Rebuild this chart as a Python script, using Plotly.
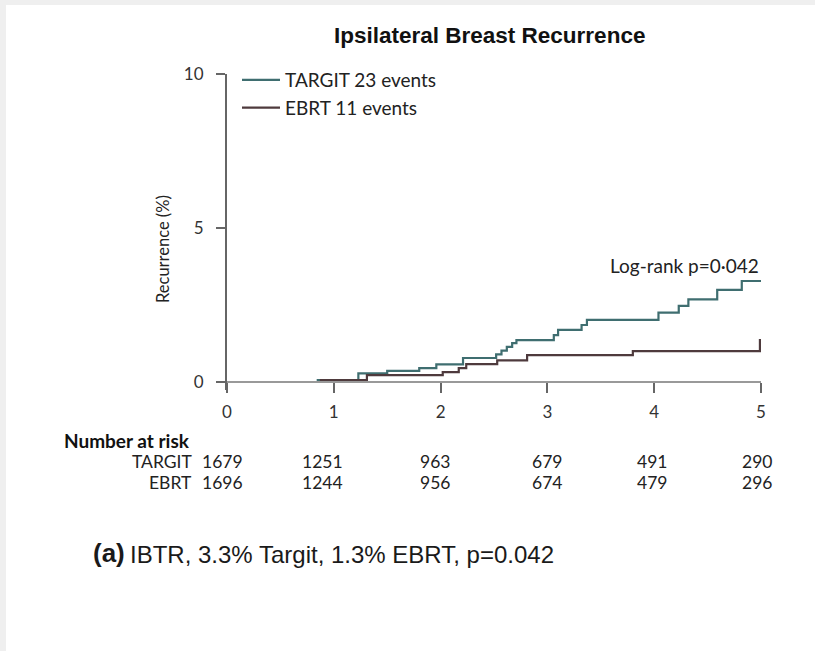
import plotly.graph_objects as go

# ---- data ----
targit_t = [0, 0.85, 1.23, 1.50, 1.80, 1.96, 2.21, 2.52, 2.57, 2.62, 2.67, 2.71,
            3.06, 3.10, 3.32, 3.37, 4.04, 4.23, 4.32, 4.59, 4.82, 5.0]
targit_v = [0, 0.06, 0.28, 0.36, 0.45, 0.57, 0.78, 0.90, 1.02, 1.14, 1.26, 1.36,
            1.52, 1.69, 1.85, 2.02, 2.25, 2.47, 2.68, 2.99, 3.28, 3.28]
ebrt_t = [0, 0.88, 1.31, 2.02, 2.17, 2.24, 2.53, 2.81, 3.80, 4.99, 5.0]
ebrt_v = [0, 0.06, 0.22, 0.32, 0.45, 0.58, 0.70, 0.87, 1.00, 1.36, 1.36]

risk_times = [0, 1, 2, 3, 4, 5]
risk_targit = [1679, 1251, 963, 679, 491, 290]
risk_ebrt = [1696, 1244, 956, 674, 479, 296]
risk_shift = [-5, -11, -6, 0, -2, -4]

x_ticks = [0, 1, 2, 3, 4, 5]
y_ticks = [0, 5, 10]

TARGIT_COL = "#3f6e70"
EBRT_COL = "#4e3a3d"
FONT = "Lato"

fig = go.Figure()
fig.add_trace(go.Scatter(x=targit_t, y=targit_v, mode="lines", line_shape="hv",
                         line=dict(color=TARGIT_COL, width=2.2), name="TARGIT 23 events"))
fig.add_trace(go.Scatter(x=ebrt_t, y=ebrt_v, mode="lines", line_shape="hv",
                         line=dict(color=EBRT_COL, width=2.2), name="EBRT 11 events"))

W, H = 815, 651
L, R, T, B = 227, 761, 74, 390
ypad = (B - 382) / 30.8

def py(p):
    return (B - p) / (B - T)

def px(p):
    return (p - L) / (R - L)

fig.update_layout(
    width=W, height=H,
    margin=dict(l=L, r=W - R, t=T, b=H - B),
    paper_bgcolor="white", plot_bgcolor="white",
    font=dict(family=FONT, color="#222"),
    showlegend=True,
    legend=dict(x=px(237), y=py(61), xanchor="left", yanchor="top",
                font=dict(family=FONT, size=19, color="#222"),
                bgcolor="rgba(0,0,0,0)", tracegroupgap=0, itemwidth=38),
    xaxis=dict(range=[0, 5], tickvals=x_ticks, ticks="outside", ticklen=10,
               tickcolor="#666", tickwidth=2, showline=True, linecolor="#999",
               linewidth=2, showgrid=False, zeroline=False,
               anchor="free", position=ypad / (10 + ypad),
               tickfont=dict(family=FONT, size=17, color="#333"),
               ticklabelstandoff=5),
    yaxis=dict(range=[-ypad, 10], tickvals=y_ticks, ticks="outside", ticklen=9,
               tickcolor="#666", tickwidth=2, showline=True, linecolor="#666",
               linewidth=2, showgrid=False, zeroline=False,
               tickfont=dict(family=FONT, size=17, color="#333"),
               ticklabelstandoff=9),
)

ann = []
ann.append(dict(text="Recurrence (%)", xref="paper", yref="paper", x=px(163), y=py(249),
                xanchor="center", yanchor="middle", textangle=-90, showarrow=False,
                font=dict(family=FONT, size=16.5, color="#222")))
ann.append(dict(text="<b>Ipsilateral Breast Recurrence</b>", xref="paper", yref="paper",
                x=px(489), y=py(35), xanchor="center", yanchor="middle",
                showarrow=False, font=dict(family="Liberation Sans", size=22.5, color="#111")))
ann.append(dict(text="Log-rank p=0·042", xref="x", yref="paper", x=5.0, y=py(265),
                xanchor="right", yanchor="middle", showarrow=False,
                font=dict(family=FONT, size=19, color="#222")))
ann.append(dict(text="<b>Number at risk</b>", xref="paper", yref="paper",
                x=px(62), y=py(440), xanchor="left", yanchor="middle",
                showarrow=False, font=dict(family=FONT, size=19, color="#111")))
ann.append(dict(text="TARGIT", xref="paper", yref="paper", x=px(194), y=py(462),
                xanchor="right", yanchor="middle", showarrow=False,
                font=dict(family=FONT, size=17.5, color="#222")))
ann.append(dict(text="EBRT", xref="paper", yref="paper", x=px(194), y=py(482),
                xanchor="right", yanchor="middle", showarrow=False,
                font=dict(family=FONT, size=17.5, color="#222")))
for t, a, b, s in zip(risk_times, risk_targit, risk_ebrt, risk_shift):
    for val, yy in ((a, 462), (b, 482)):
        ann.append(dict(text=str(val), xref="x", yref="paper", x=t, y=py(yy),
                        xanchor="center", yanchor="middle", xshift=s, showarrow=False,
                        font=dict(family=FONT, size=17.5, color="#222")))
ann.append(dict(text="<b>(a)</b>", xref="paper", yref="paper", x=px(91),
                y=py(553), xanchor="left", yanchor="middle", showarrow=False,
                font=dict(family="Liberation Sans", size=26, color="#1a1a1a")))
ann.append(dict(text="IBTR, 3.3% Targit, 1.3% EBRT, p=0.042", xref="paper", yref="paper",
                x=px(128), y=py(554), xanchor="left", yanchor="middle",
                showarrow=False, font=dict(family="Liberation Sans", size=24, color="#1a1a1a")))
fig.update_layout(annotations=ann)

# light page-edge border at top and left
fig.add_shape(type="rect", xref="paper", yref="paper", x0=px(0), x1=px(W),
              y0=py(5), y1=py(0), fillcolor="#efefef", line_width=0, layer="below")
fig.add_shape(type="rect", xref="paper", yref="paper", x0=px(0), x1=px(6),
              y0=py(H), y1=py(0), fillcolor="#efefef", line_width=0, layer="below")

fig.write_html("out.html")
